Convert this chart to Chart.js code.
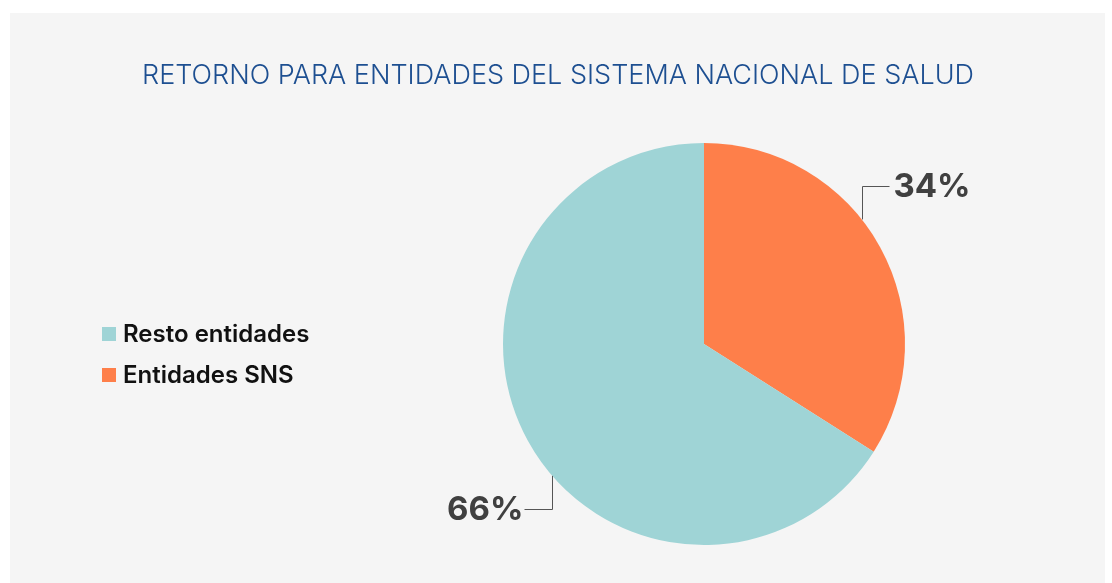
<!DOCTYPE html>
<html>
<head>
<meta charset="utf-8">
<script src="https://cdn.jsdelivr.net/npm/chart.js@4/dist/chart.umd.min.js"></script>
<style>
  html,body{margin:0;padding:0;background:#fff;}
  canvas{display:block;}
</style>
</head>
<body>
<canvas id="pie" width="1112" height="583"></canvas>
<script>
// ── Retorno para entidades del SNS: pie con leyenda y etiquetas ──

const title = 'RETORNO PARA ENTIDADES DEL SISTEMA NACIONAL DE SALUD';
const categories = ['Entidades SNS', 'Resto entidades'];
const shares = [34, 66];
const colors = ['#fe7f4a', '#9fd4d6'];
const legendOrder = [1, 0];          // leyenda: Resto primero
const leaderAngles = [51.7, 229];    // grados desde las 12, sentido horario

const panelBg = {
  id:'panelBg',
  beforeDraw(chart){
    const c = chart.ctx;
    c.save();
    c.fillStyle = '#f5f5f5';
    c.fillRect(10, 13, 1095, 570);
    c.restore();
  }
};

const extras = {
  id:'extras',
  afterDraw(chart){
    const c = chart.ctx;
    c.save();
    // título
    c.fillStyle = '#1d4f91';
    c.font = '300 27px Inter, "Open Sans", sans-serif';
    c.textBaseline = 'alphabetic';
    c.textAlign = 'center';
    c.fillText(title, 558, 84);

    // leyenda
    c.textAlign = 'left';
    c.font = '600 24px Inter, "Open Sans", sans-serif';
    legendOrder.forEach((idx, i)=>{
      const y = 334 + i*41;
      c.fillStyle = colors[idx];
      c.fillRect(102, y-7, 14, 14);
      c.fillStyle = '#111';
      c.textBaseline = 'middle';
      c.fillText(categories[idx], 123, y+1);
    });

    // etiquetas con guía
    const arc = chart.getDatasetMeta(0).data[0];
    const cx = arc.x, cy = arc.y, r = arc.outerRadius;
    c.strokeStyle = '#555';
    c.lineWidth = 1;
    c.font = 'bold 33px Inter, "Open Sans", sans-serif';
    c.fillStyle = '#404040';
    c.textBaseline = 'middle';
    shares.forEach((v, i)=>{
      const a = leaderAngles[i]*Math.PI/180;
      const ex = Math.round(cx + r*Math.sin(a)) + 0.5;
      const ey = cy - r*Math.cos(a);
      const right = Math.sin(a) > 0;
      const ly = (ey < cy ? 186 : 509) + 0.5;
      const hx = right ? ex + 27 : ex - 28;
      c.beginPath();
      c.moveTo(ex, ey);
      c.lineTo(ex, ly);
      c.lineTo(hx, ly);
      c.stroke();
      c.textAlign = right ? 'left' : 'right';
      c.fillText(v + '%', right ? hx + 4 : hx - 1, ly + 1);
    });
    c.restore();
  }
};

new Chart(document.getElementById('pie').getContext('2d'), {
  type:'pie',
  data:{
    labels:categories,
    datasets:[{data:shares, backgroundColor:colors, borderWidth:0}]
  },
  options:{
    responsive:false,
    animation:false,
    layout:{padding:{left:503, right:207, top:143, bottom:38}},
    plugins:{legend:{display:false}, title:{display:false}, tooltip:{enabled:false}}
  },
  plugins:[panelBg, extras]
});
</script>
</body>
</html>
